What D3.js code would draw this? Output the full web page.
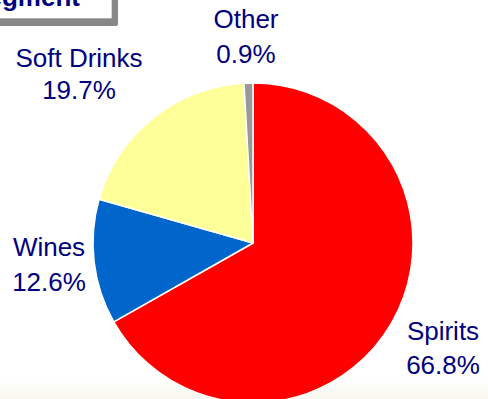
<!DOCTYPE html>
<html>
<head>
<meta charset="utf-8">
<script src="https://cdn.jsdelivr.net/npm/d3@7"></script>
<style>
  html, body { margin: 0; padding: 0; background: #ffffff; }
  svg { display: block; }
</style>
</head>
<body>
<script>
// ---- data ----
const categories = ["Spirits", "Wines", "Soft Drinks", "Other"];
const shares = [66.8, 12.6, 19.7, 0.9];
const sliceColors = ["#FF0000", "#0066CC", "#FFFF99", "#999999"];
const titleText = "Sales by Segment";

// ---- layout ----
const W = 488, H = 399;
const cx = 253, cy = 243, R = 160;
// label anchor (centre x, first baseline, second baseline) per category
const labelLayout = {
  "Spirits":     { x: 443, y1: 340, y2: 374 },
  "Wines":       { x: 49,  y1: 256, y2: 291 },
  "Soft Drinks": { x: 79,  y1: 67,  y2: 99 },
  "Other":       { x: 246, y1: 28,  y2: 63 }
};

const svg = d3.select("body").append("svg")
  .attr("width", W).attr("height", H);

// faint bottom tint
const defs = svg.append("defs");
const grad = defs.append("linearGradient").attr("id", "bottomTint")
  .attr("x1", 0).attr("y1", 0).attr("x2", 0).attr("y2", 1);
grad.append("stop").attr("offset", "0%").attr("stop-color", "#ffffff");
grad.append("stop").attr("offset", "100%").attr("stop-color", "#f8f8ee");
svg.append("rect").attr("x", 0).attr("y", 380).attr("width", W).attr("height", 19)
  .attr("fill", "url(#bottomTint)");

// title box (cut off at the top-left)
svg.append("rect").attr("x", -60).attr("y", -40).attr("width", 178).attr("height", 66)
  .attr("rx", 2).attr("fill", "#888888");
svg.append("rect").attr("x", -60).attr("y", -40).attr("width", 171.7).attr("height", 58.3)
  .attr("fill", "#ffffff");
svg.append("text").attr("x", 80).attr("y", 6)
  .attr("text-anchor", "end")
  .attr("font-family", "'Liberation Sans', Arial, sans-serif")
  .attr("font-size", 26).attr("font-weight", "bold")
  .attr("fill", "#000080")
  .text(titleText);

// pie
const data = categories.map((c, i) => ({ cat: c, value: shares[i], color: sliceColors[i] }));
const pie = d3.pie().sort(null).value(d => d.value).startAngle(0).endAngle(2 * Math.PI);
const arc = d3.arc().innerRadius(0).outerRadius(R);

const g = svg.append("g").attr("transform", `translate(${cx},${cy})`);
g.selectAll("path").data(pie(data)).join("path")
  .attr("d", arc)
  .attr("fill", d => d.data.color)
  .attr("stroke", "#ffffff")
  .attr("stroke-width", 1.5)
  .attr("stroke-linejoin", "round");

// labels
const labels = svg.append("g")
  .attr("font-family", "'Liberation Sans', Arial, sans-serif")
  .attr("font-size", 26)
  .attr("fill", "#000080")
  .attr("text-anchor", "middle");
data.forEach(d => {
  const L = labelLayout[d.cat];
  labels.append("text").attr("x", L.x).attr("y", L.y1).text(d.cat);
  labels.append("text").attr("x", L.x).attr("y", L.y2).text(d.value.toFixed(1) + "%");
});
</script>
</body>
</html>
